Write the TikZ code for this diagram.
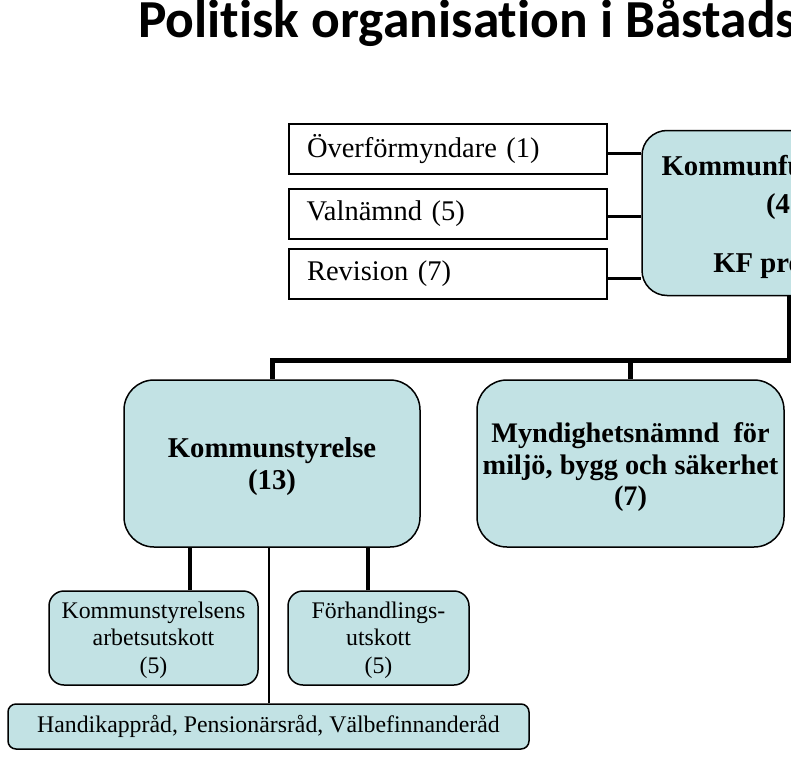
\documentclass[tikz,border=0pt]{standalone}
\usepackage{fontspec}
\setmainfont{Liberation Serif}
\newfontfamily\titlefont[Ligatures=NoCommon]{Carlito}
\definecolor{boxfill}{RGB}{194,226,228}
\tikzset{
  rectbox/.style={draw=black, line width=2pt, minimum width=318pt, minimum height=50pt, anchor=center, font=\fontsize{28.5}{32}\selectfont, align=left, text width=282pt, inner sep=0pt},
  bigbox/.style={draw=black, line width=1.5pt, fill=boxfill, rounded corners=30pt, inner sep=0pt},
  bigtext/.style={align=center, inner sep=0pt, font=\fontsize{28.7}{31.5}\selectfont\bfseries},
  smallbox/.style={draw=black, line width=1.5pt, fill=boxfill, rounded corners=15pt, align=center, inner sep=0pt, font=\fontsize{23.8}{27.5}\selectfont},
  conn/.style={line width=3pt},
  bus/.style={line width=5pt},
  sub/.style={line width=4pt},
  thinl/.style={line width=2pt}
}
\begin{document}
\begin{tikzpicture}[x=1pt,y=-1pt]
\useasboundingbox (0,0) rectangle (791,757);
\clip (0,0) rectangle (791,757);
\fill[white] (0,0) rectangle (791,757);
% title
\node[anchor=base west, inner sep=0pt, font=\titlefont\bfseries\fontsize{53.5}{60}\selectfont] (title) at (138,38) {Politisk organisation i Båstads kommun};
% left rect boxes
\node[rectbox] (ovf) at (448,149) {Överförmyndare (1)};
\node[rectbox] (val) at (447.5,214) {Valnämnd (5)};
\node[rectbox] (rev) at (448,273.5) {Revision (7)};
% KF
\node[bigbox, rounded corners=25pt, minimum width=296pt, minimum height=165pt] (kf) at (790,213) {};
\node[bigtext, anchor=base] (kft1) at (790,175) {Kommunfullmäktige};
\node[bigtext, anchor=base] (kft2) at (790,213) {(41)};
\node[bigtext, anchor=base] (kft3) at (790,272) {KF presidiet};
\draw[conn] ([yshift=-4pt]ovf.east) -- ([yshift=-4pt]ovf.east -| kf.west);
\draw[conn] ([yshift=-2pt]val.east) -- ([yshift=-2pt]val.east -| kf.west);
\draw[conn] ([yshift=-5pt]rev.east) -- ([yshift=-5pt]rev.east -| kf.west);
% level 2
\node[bigbox, minimum width=296pt, minimum height=167pt] (ks) at (272,463.5) {};
\node[bigtext] (kst) at ([yshift=-3pt]ks.center) {Kommunstyrelse\\(13)};
\node[bigbox, minimum width=307pt, minimum height=167pt] (myn) at (630.5,463.5) {};
\node[bigtext, font=\fontsize{28.3}{31.5}\selectfont\bfseries] (mynt) at ([yshift=-4pt]myn.center) {Myndighetsnämnd\ \ för\\miljö, bygg och säkerhet\\(7)};
\coordinate (busr) at (789,360);
\draw[bus] (kf.south -| busr) -- (busr) -- (busr -| ks.north) -- (ks.north);
\draw[bus] (myn.north) -- (myn.north |- busr);
% level 3
\node[smallbox, minimum width=209pt, minimum height=94pt] (ksau) at (153.5,638) {};
\node[align=center, inner sep=0pt, font=\fontsize{23.8}{27.5}\selectfont] (ksaut) at ([yshift=-2pt]ksau.center) {Kommunstyrelsens\\arbetsutskott\\(5)};
\node[smallbox, minimum width=181pt, minimum height=94pt] (fhu) at (378.5,638) {};
\node[align=center, inner sep=0pt, font=\fontsize{23.8}{27.5}\selectfont] (fhut) at ([yshift=-2pt]fhu.center) {Förhandlings-\\utskott\\(5)};
\node[smallbox, rounded corners=8pt, minimum width=521pt, minimum height=45pt] (hk) at (268.5,726.5) {Handikappråd, Pensionärsråd, Välbefinnanderåd};
\draw[sub] ([xshift=36.5pt]ksau.north) -- ([xshift=36.5pt]ksau.north |- ks.south);
\draw[sub] ([xshift=-10.5pt]fhu.north) -- ([xshift=-10.5pt]fhu.north |- ks.south);
\draw[thinl] (hk.north) -- (hk.north |- ks.south);
\end{tikzpicture}
\end{document}
